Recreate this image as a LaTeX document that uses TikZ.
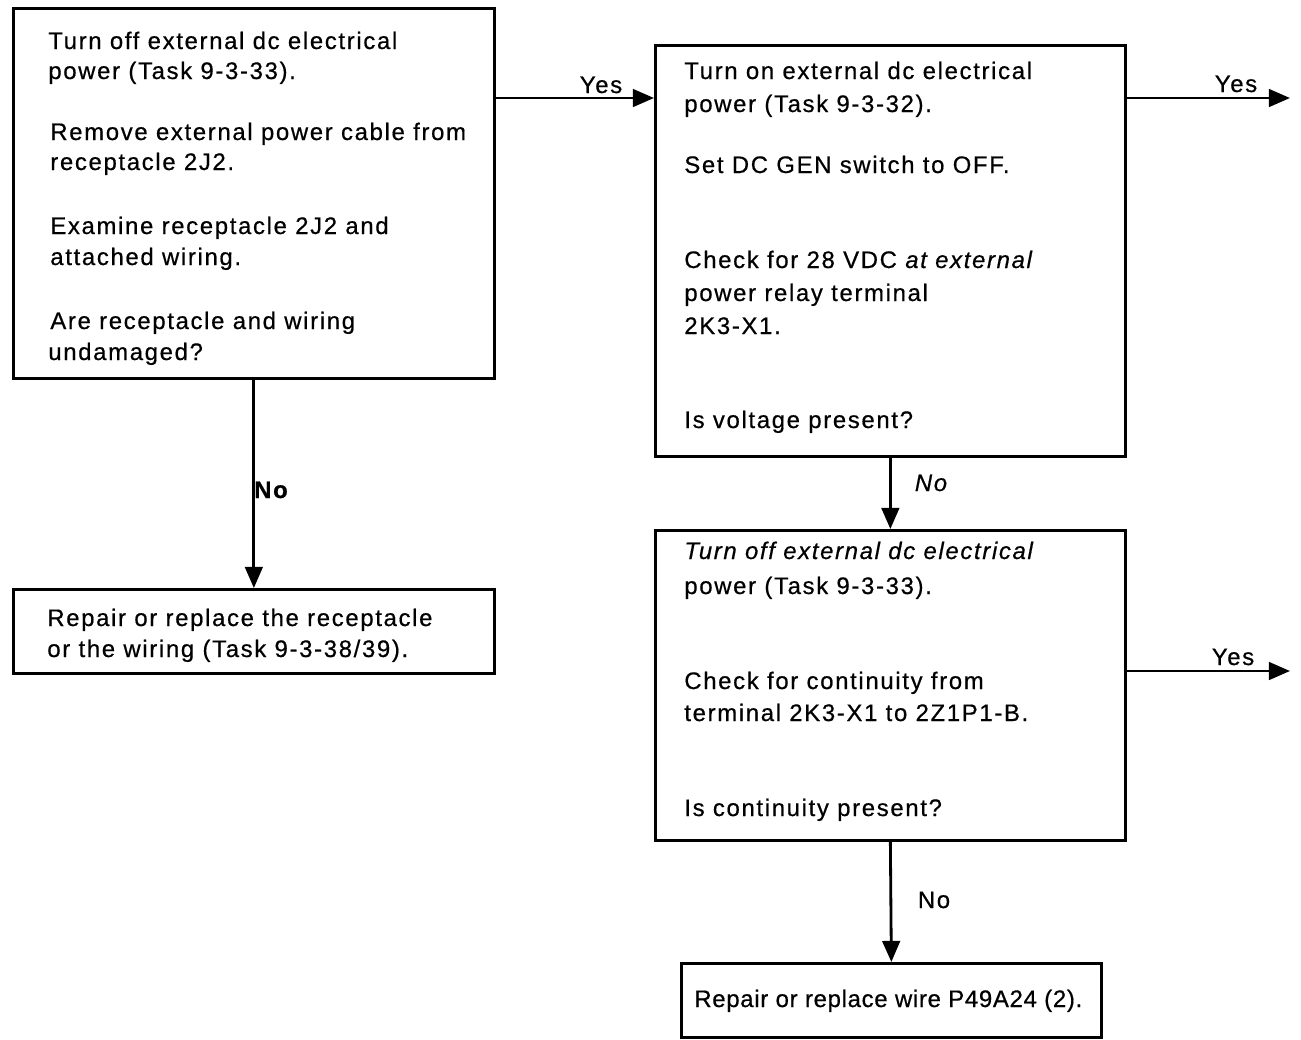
\documentclass[tikz,border=0pt]{standalone}
\usepackage{fontspec}
\setmainfont[LetterSpace=7,FakeBold=0.6]{Liberation Sans}
\newfontfamily\tightfont[LetterSpace=3,FakeBold=0.6]{Liberation Sans}
\usetikzlibrary{arrows.meta,calc}
\begin{document}
\begin{tikzpicture}[x=0.02cm,y=-0.02cm,
  box/.style={draw, line width=1.6pt, inner sep=0, anchor=north west},
  txt/.style={anchor=base west, inner sep=0, font=\fontsize{13.6}{16}\selectfont},
  lbl/.style={anchor=base, inner sep=0, font=\fontsize{13.6}{16}\selectfont},
  arr/.style={line width=1.6pt, -{Triangle[length=12pt,width=10pt]}}]
\useasboundingbox (0,0) rectangle (1301,1039);
% boxes
\node[box, minimum width=9.62cm, minimum height=7.40cm] (b1) at (12,7) {};
\node[box, minimum width=9.62cm, minimum height=1.68cm] (b2) at (12,588) {};
\node[box, minimum width=9.40cm, minimum height=8.22cm] (b3) at (654,44) {};
\node[box, minimum width=9.40cm, minimum height=6.20cm] (b4) at (654,529) {};
\node[box, minimum width=8.40cm, minimum height=1.48cm] (b5) at (680,962) {};
% box 1 text
\node[txt] (t1a) at (48,49) {Turn off external dc electrical};
\node[txt] (t1b) at (48,79) {power (Task 9-3-33).};
\node[txt] (t1c) at (50,140) {Remove external power cable from};
\node[txt] (t1d) at (50,170) {receptacle 2J2.};
\node[txt] (t1e) at (50,234) {Examine receptacle 2J2 and};
\node[txt] (t1f) at (50,265) {attached wiring.};
\node[txt] (t1g) at (50,329) {Are receptacle and wiring};
\node[txt] (t1h) at (48,360) {undamaged?};
% box 2 text
\node[txt] (t2a) at (47,626) {Repair or replace the receptacle};
\node[txt] (t2b) at (47,657) {or the wiring (Task 9-3-38/39).};
% box 3 text
\node[txt] (t3a) at (684,79) {Turn on external dc electrical};
\node[txt] (t3b) at (684,112) {power (Task 9-3-32).};
\node[txt] (t3c) at (684,173) {Set DC GEN switch to OFF.};
\node[txt] (t3d) at (684,268) {Check for 28 VDC \textit{at external}};
\node[txt] (t3e) at (684,301) {power relay terminal};
\node[txt] (t3f) at (684,334) {2K3-X1.};
\node[txt] (t3g) at (684,428) {Is voltage present?};
% box 4 text
\node[txt] (t4a) at (684,559) {\textit{Turn off external dc electrical}};
\node[txt] (t4b) at (684,594) {power (Task 9-3-33).};
\node[txt] (t4c) at (684,689) {Check for continuity from};
\node[txt] (t4d) at (684,721) {terminal 2K3-X1 to 2Z1P1-B.};
\node[txt] (t4e) at (684,816) {Is continuity present?};
% box 5 text
\node[txt, font=\fontsize{13.6}{16}\tightfont] (t5a) at (694,1007) {Repair or replace wire P49A24 (2).};
% helper coordinates
\coordinate (ya) at (0,98);
\coordinate (yb) at (0,671);
\coordinate (e1) at (1290,98);
\coordinate (e2) at (1290,671);
% connectors
\draw[arr] (b1.east |- ya) -- (b3.west |- ya);
\draw[arr] (b3.east |- ya) -- (e1);
\draw[arr] (b4.east |- yb) -- (e2);
\draw[arr] (b1.south) -- (b2.north);
\draw[arr] (b3.south) -- (b4.north);
\draw[arr] (b4.south) -- (b5.north);
% labels
\node[lbl] (y1) at (601,93) {Yes};
\node[lbl] (y2) at (1236,92) {Yes};
\node[lbl] (y3) at (1233,665) {Yes};
\node[lbl, font=\fontsize{13.6}{16}\selectfont\bfseries] (n1) at (271,498) {No};
\node[lbl, font=\fontsize{13.6}{16}\selectfont\itshape] (n2) at (931,491) {No};
\node[lbl] (n3) at (934,908) {No};
\end{tikzpicture}
\end{document}
